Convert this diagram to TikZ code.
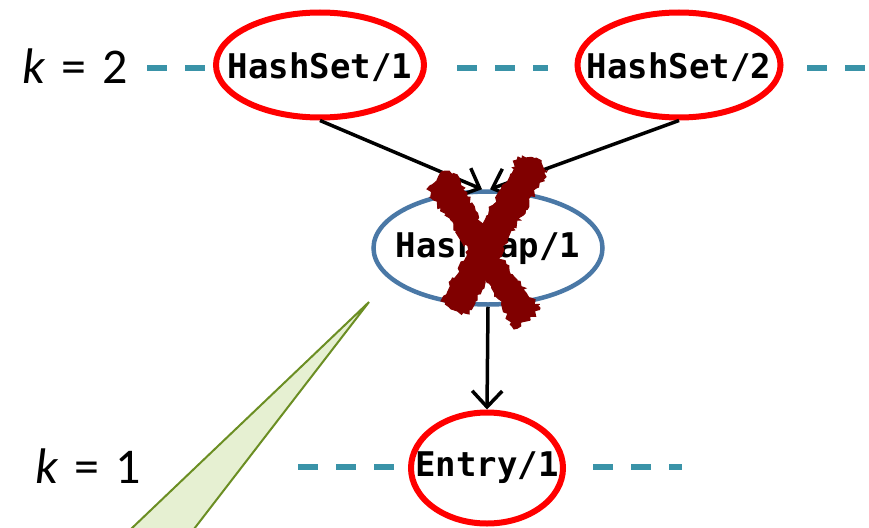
\documentclass[tikz,border=0pt]{standalone}
\usepackage{fontspec}
\newfontfamily\labelfont{Carlito}
\newfontfamily\codefont{DejaVu Sans Mono}
\usetikzlibrary{shapes.geometric,arrows.meta,decorations.pathmorphing}
\definecolor{setred}{HTML}{FF0000}
\definecolor{mapblue}{HTML}{4A78A6}
\definecolor{levelteal}{HTML}{3A93A8}
\definecolor{crossred}{HTML}{800000}
\definecolor{calloutfill}{HTML}{E6F0D2}
\definecolor{calloutline}{HTML}{6B8E23}
\tikzset{
  codetext/.style={font=\codefont\bfseries\fontsize{34}{36}\selectfont, inner sep=0pt},
  classnode/.style={ellipse, draw=setred, line width=6pt, inner sep=0pt},
  removednode/.style={classnode, draw=mapblue, line width=4.5pt},
  depedge/.style={line width=3.5pt, -{Straight Barb[length=16pt,width=30pt,line width=3.5pt]}},
  levelline/.style={draw=levelteal, line width=6pt, dash pattern=on 20pt off 18pt},
  levellabel/.style={font=\labelfont\fontsize{50}{54}\selectfont, inner sep=0pt},
  brush/.style={fill=crossred, draw=crossred, line width=1pt,
    decorate, decoration={random steps, segment length=3pt, amplitude=2.5pt}}
}
\begin{document}
\begin{tikzpicture}[x=1pt, y=-1pt]
\useasboundingbox (0,0) rectangle (869,527);

% callout wedge
\path[fill=calloutfill, draw=calloutline, line width=2pt]
  (369,302) -- (194,529) -- (131,529) -- cycle;

% level labels
\node[levellabel] (k2) at (75,66) {\textit{k}\hspace{16pt}=\hspace{16pt}2};
\node[levellabel] (k1) at (88,466) {\textit{k}\hspace{16pt}=\hspace{16pt}1};

% nodes: ellipse outline with the class name set at its centre
\node[classnode, minimum width=208pt, minimum height=105pt,
      label={[codetext, yshift=-2pt]center:HashSet/1}] (hs1) at (320,65) {};
\node[classnode, minimum width=203pt, minimum height=105pt,
      label={[codetext, yshift=-2pt]center:HashSet/2}] (hs2) at (679,65) {};
\node[removednode, minimum width=229pt, minimum height=113pt,
      label={[codetext]center:HashMap/1}] (hm) at (488,248) {};
\node[classnode, minimum width=152pt, minimum height=111pt,
      label={[codetext]center:Entry/1}] (en) at (487,468) {};

% level guide lines
\coordinate (l2a) at (147,68);
\coordinate (l2b) at (205,68);
\coordinate (l2c) at (457,68);
\coordinate (l2d) at (548,68);
\coordinate (l2e) at (807,68);
\coordinate (l2f) at (869,68);
\coordinate (l1a) at (298,467);
\coordinate (l1b) at (396,467);
\coordinate (l1c) at (593,467);
\coordinate (l1d) at (682,467);
\draw[levelline] (l2a) -- (l2b);
\draw[levelline] (l2c) -- (l2d);
\draw[levelline] (l2e) -- (l2f);
\draw[levelline] (l1a) -- (l1b);
\draw[levelline] (l1c) -- (l1d);

% dependencies
\draw[depedge] (hs1.south) -- ([xshift=-6pt]hm.north);
\draw[depedge] (hs2.south) -- ([xshift=2pt]hm.north);
\draw[depedge] (hm.south) -- (en.north);

% hand-drawn cross over the removed class
\pgfmathsetseed{11}
\path[brush] (427,189) -- (445,171) -- (459,178) -- (494,250) -- (540,308) -- (530,320) -- (514,329) -- (479,263) -- cycle;
\path[brush] (518,157) -- (536,158) -- (547,171) -- (507,241) -- (469,314) -- (451,309) -- (441,301) -- (477,236) -- cycle;
\end{tikzpicture}
\end{document}
